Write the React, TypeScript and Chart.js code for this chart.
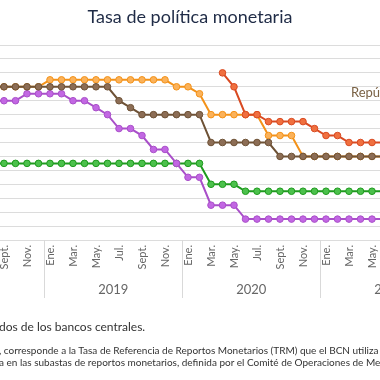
import React, { useEffect, useRef } from 'react';
import { Chart, registerables } from 'chart.js';

Chart.register(...registerables);

const monthLabels = [
  'Ago.', 'Sept.', 'Oct.', 'Nov.', 'Dic.',
  'Ene.', 'Feb.', 'Mar.', 'Abr.', 'May.', 'Jun.', 'Jul.', 'Ago.', 'Sept.', 'Oct.', 'Nov.', 'Dic.',
  'Ene.', 'Feb.', 'Mar.', 'Abr.', 'May.', 'Jun.', 'Jul.', 'Ago.', 'Sept.', 'Oct.', 'Nov.', 'Dic.',
  'Ene.', 'Feb.', 'Mar.', 'Abr.', 'May.', 'Jun.',
];
const yearLabels = ['2019', '2020', '2021'];
const yearStartIndex = [5, 17, 29];

const honduras = [
  5.5, 5.5, 5.5, 5.5, 5.5,
  5.75, 5.75, 5.75, 5.75, 5.75, 5.75, 5.75, 5.75, 5.75, 5.75, 5.75, 5.5,
  5.5, 5.25, 4.5, 4.5, 4.5, 4.5, 4.5, 3.75, 3.75, 3.75, 3.0, 3.0,
  3.0, 3.0, 3.0, 3.0, 3.0, 3.0,
];
const repDominicana = [
  5.5, 5.5, 5.5, 5.5, 5.5,
  5.5, 5.5, 5.5, 5.5, 5.5, 5.5, 5.0, 4.75, 4.5, 4.5, 4.5, 4.5,
  4.5, 4.5, 3.5, 3.5, 3.5, 3.5, 3.5, 3.5, 3.0, 3.0, 3.0, 3.0,
  3.0, 3.0, 3.0, 3.0, 3.0, 3.0,
];
const costaRica = [
  5.0, 5.0, 5.0, 5.25, 5.25,
  5.25, 5.25, 5.0, 5.0, 4.75, 4.5, 4.0, 4.0, 3.75, 3.25, 3.25, 2.75,
  2.25, 2.25, 1.25, 1.25, 1.25, 0.75, 0.75, 0.75, 0.75, 0.75, 0.75, 0.75,
  0.75, 0.75, 0.75, 0.75, 0.75, 0.75,
];
const guatemala = [
  2.75, 2.75, 2.75, 2.75, 2.75,
  2.75, 2.75, 2.75, 2.75, 2.75, 2.75, 2.75, 2.75, 2.75, 2.75, 2.75, 2.75,
  2.75, 2.75, 2.0, 2.0, 2.0, 1.75, 1.75, 1.75, 1.75, 1.75, 1.75, 1.75,
  1.75, 1.75, 1.75, 1.75, 1.75, 1.75,
];
const nicaragua = [
  null, null, null, null, null,
  null, null, null, null, null, null, null, null, null, null, null, null,
  null, null, null, 6.0, 5.5, 4.5, 4.5, 4.25, 4.25, 4.25, 4.25, 4.0,
  3.75, 3.75, 3.5, 3.5, 3.5, 3.5,
];

const W = 600;
const H = 380;
const SHIFT = -110;
const FONT = 'Lato, "Open Sans", sans-serif';

const overlayPlugin = {
  id: 'overlay',
  afterDraw(chart: any) {
    const { ctx, chartArea } = chart;
    const x = chart.scales.x;
    const half = (x.getPixelForValue(1) - x.getPixelForValue(0)) / 2;
    ctx.save();
    ctx.strokeStyle = '#d9d9d9';
    ctx.lineWidth = 1;
    yearStartIndex.forEach((idx) => {
      const px = Math.round(x.getPixelForValue(idx) - half) + 0.5;
      ctx.beginPath();
      ctx.moveTo(px, chartArea.bottom);
      ctx.lineTo(px, chartArea.bottom + 58);
      ctx.stroke();
    });
    ctx.fillStyle = '#666666';
    ctx.font = `13px ${FONT}`;
    ctx.textAlign = 'center';
    ctx.textBaseline = 'middle';
    yearLabels.forEach((label, i) => {
      const start = x.getPixelForValue(yearStartIndex[i]) - half;
      const end = start + half * 2 * 12;
      ctx.fillText(label, (start + end) / 2, chartArea.bottom + 50);
    });
    ctx.fillStyle = '#7a6245';
    ctx.font = `13px ${FONT}`;
    ctx.textAlign = 'left';
    ctx.fillText('República Dominicana', 461, 93);
    ctx.restore();
  },
};

export default function App() {
  const ref = useRef<HTMLCanvasElement>(null);
  useEffect(() => {
    if (!ref.current) return;
    const mk = (label: string, data: any[], line: string, fill: string, order: number) => ({
      label,
      data,
      borderColor: line,
      backgroundColor: fill,
      pointBackgroundColor: fill,
      pointBorderColor: line,
      pointBorderWidth: 1,
      pointRadius: 3.3,
      borderWidth: 2,
      tension: 0,
      spanGaps: false,
      order,
    });
    const chart = new Chart(ref.current, {
      type: 'line',
      data: {
        labels: monthLabels,
        datasets: [
          mk('Nicaragua', nicaragua, '#d94a22', '#f0703f', 1),
          mk('República Dominicana', repDominicana, '#6e5236', '#8c6d55', 2),
          mk('Costa Rica', costaRica, '#a94fc9', '#c267e3', 3),
          mk('Guatemala', guatemala, '#1e9a1e', '#4cc14c', 4),
          mk('Honduras', honduras, '#f39219', '#fbb25a', 5),
        ],
      },
      options: {
        responsive: false,
        animation: false,
        devicePixelRatio: 1,
        layout: { padding: { left: 96.75, right: 100.75, top: 45, bottom: 80 } },
        plugins: { legend: { display: false }, tooltip: { enabled: false }, title: { display: false } },
        scales: {
          x: {
            type: 'category',
            offset: true,
            grid: { display: false, drawTicks: false },
            border: { display: false },
            ticks: {
              autoSkip: false,
              minRotation: 90,
              maxRotation: 90,
              padding: 5,
              color: '#666666',
              font: { family: FONT, size: 11 },
              callback: (_v: any, i: number) => ((i - 5) % 2 === 0 ? monthLabels[i] : ''),
            },
            afterFit: (s: any) => {
              s.height = 60;
              s.paddingLeft = 0;
              s.paddingRight = 0;
            },
          },
          y: {
            min: 0,
            max: 7,
            grid: { color: '#dcdcdc', lineWidth: 1, drawTicks: false },
            border: { display: false },
            ticks: { display: false, stepSize: 0.5 },
            afterFit: (s: any) => {
              s.width = 0;
            },
          },
        },
      },
      plugins: [overlayPlugin],
    });
    return () => chart.destroy();
  }, []);

  return (
    <div style={{ position: 'absolute', left: 0, top: 0, width: 380, height: 380, overflow: 'hidden', background: '#fff' }}>
      <canvas ref={ref} width={W} height={H} style={{ position: 'absolute', left: SHIFT, top: 0, width: W, height: H }} />
      <div style={{ position: 'absolute', left: 0, top: 5, width: 380, textAlign: 'center', font: `18px ${FONT}`, color: '#1f2b46', whiteSpace: 'nowrap' }}>
        Tasa de política monetaria
      </div>
      <div style={{ position: 'absolute', left: -1, top: 319, font: `12px ${FONT}`, color: '#333', whiteSpace: 'nowrap' }}>
        dos de los bancos centrales.
      </div>
      <div style={{ position: 'absolute', left: -1, top: 344, font: `10px ${FONT}`, color: '#333', whiteSpace: 'nowrap' }}>
        , corresponde a la Tasa de Referencia de Reportos Monetarios (TRM) que el BCN utiliza
      </div>
      <div style={{ position: 'absolute', left: -1, top: 356, font: `10px ${FONT}`, color: '#333', whiteSpace: 'nowrap' }}>
        a en las subastas de reportos monetarios, definida por el Comité de Operaciones de Mercado
      </div>
    </div>
  );
}
